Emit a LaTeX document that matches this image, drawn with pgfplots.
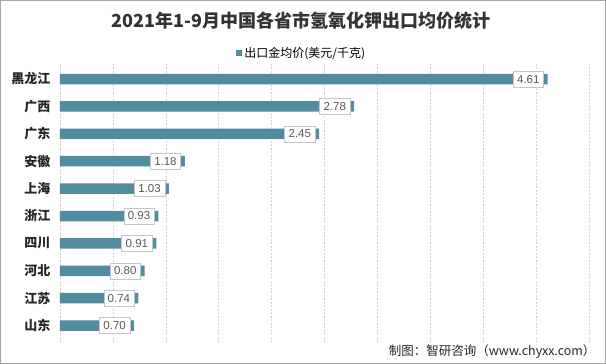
\documentclass[border=0pt]{standalone}
\usepackage{fontspec}
\setmainfont{Liberation Sans}
\newfontfamily\cjk{Noto Sans CJK SC}
\usepackage{pgfplots}
\pgfplotsset{compat=1.18}
\definecolor{barc}{RGB}{82,140,158}
\definecolor{lblc}{RGB}{89,89,89}
\begin{document}
\begin{tikzpicture}[x=1pt,y=1pt]
\path[draw=gray!70,line width=0.8pt] (0.4,0.4) rectangle (605.6,363.6);
\node[font=\cjk\bfseries\fontsize{18}{18}\selectfont,text=black!80] at (301,343) {2021年1-9月中国各省市氢氧化钾出口均价统计};
\node[font=\cjk\fontsize{12.5}{12.5}\selectfont,anchor=east,text=black!85] at (599,12) {制图：智研咨询（www.chyxx.com）};
\begin{axis}[
  at={(60pt,22pt)}, anchor=south west,
  scale only axis, width=529pt, height=278pt,
  xbar, bar width=10.5pt,
  xmin=0, xmax=5, xtick={0,0.5,...,5}, xticklabels={},
  ymin=-0.55, ymax=9.6, y dir=reverse,
  ytick={0,...,9},
  yticklabels={黑龙江,广西,广东,安徽,上海,浙江,四川,河北,江苏,山东},
  yticklabel style={font=\cjk\bfseries\fontsize{13}{13}\selectfont, text=black!85, xshift=-6pt},
  axis line style={draw=none},
  major tick length=0pt,
  xmajorgrids, grid style={gray!35, dash pattern=on 2pt off 1.5pt, line width=0.6pt},
  point meta=x,
  nodes near coords={\pgfmathprintnumber[fixed,fixed zerofill,precision=2,assume math mode=true]{\pgfplotspointmeta}},
  every node near coord/.append style={anchor=east, xshift=-4pt, fill=white, draw=gray!45, text=lblc,
     font=\fontsize{11.5}{11.5}\selectfont, inner xsep=4pt, inner ysep=0pt, minimum height=16pt},
  legend style={at={(0.333,1.04)}, anchor=west, draw=none, fill=none,
     font=\cjk\fontsize{12}{12}\selectfont, inner sep=0pt},
  legend image code/.code={\fill[barc] (0pt,-3pt) rectangle (6pt,3pt);},
  legend cell align=left,
]
\addplot[fill=barc, draw=none] coordinates {
 (4.61,0) (2.78,1) (2.45,2) (1.18,3) (1.03,4) (0.93,5) (0.91,6) (0.80,7) (0.74,8) (0.70,9)
};
\addlegendentry{出口金均价(美元/千克)}
\end{axis}
\end{tikzpicture}
\end{document}
